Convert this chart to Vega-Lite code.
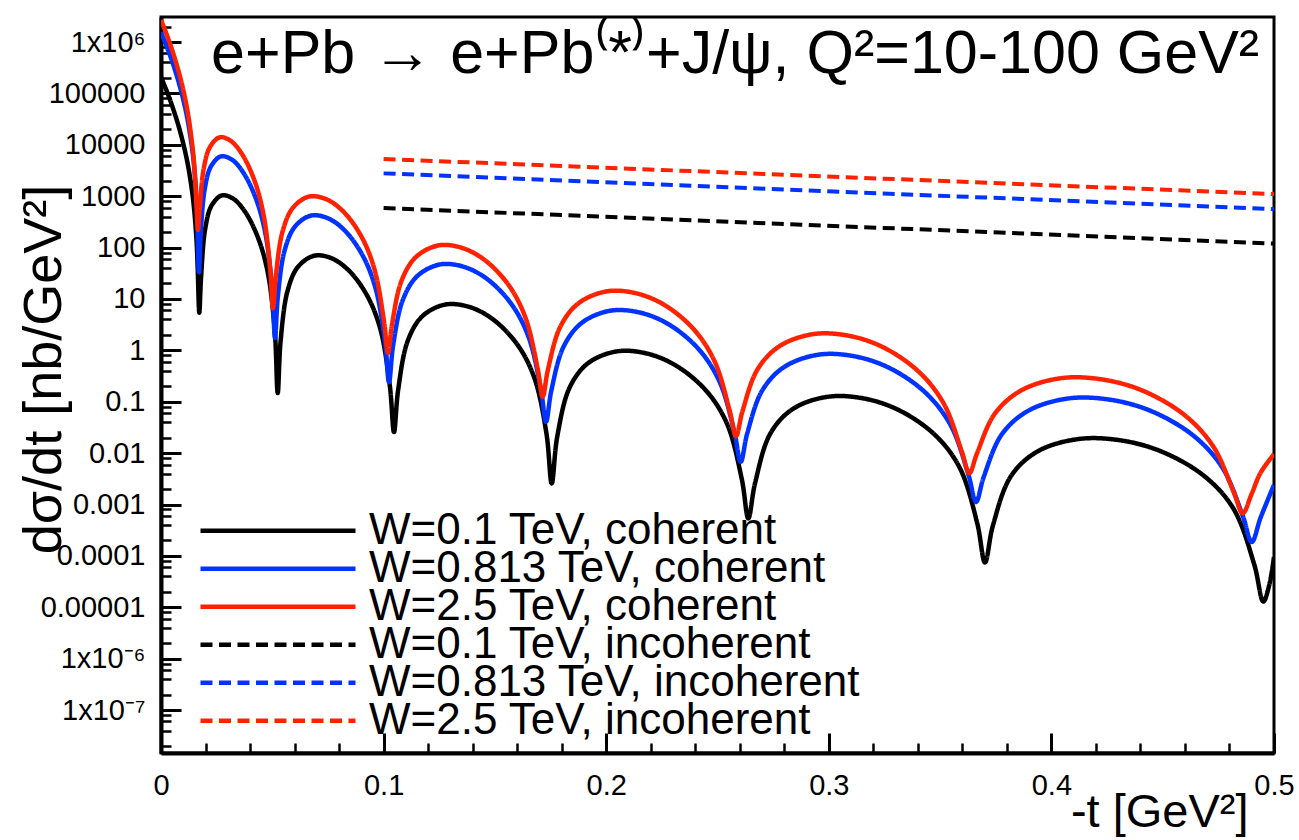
{
  "$schema": "https://vega.github.io/schema/vega-lite/v6.json",
  "width": 1113,
  "height": 736,
  "autosize": {"type": "none"},
  "padding": {"left": 161, "top": 17, "right": 25, "bottom": 87},
  "background": "white",
  "config": {
    "view": {"stroke": "black", "strokeWidth": 3},
    "font": "Liberation Sans",
    "axis": {"grid": false}
  },
  "data": {
    "values": [
      {"s": "W=0.1 TeV, incoherent", "t": 0.1, "v": 590},
      {"s": "W=0.1 TeV, incoherent", "t": 0.5, "v": 120},
      {"s": "W=0.813 TeV, incoherent", "t": 0.1, "v": 2780},
      {"s": "W=0.813 TeV, incoherent", "t": 0.5, "v": 560},
      {"s": "W=2.5 TeV, incoherent", "t": 0.1, "v": 5300},
      {"s": "W=2.5 TeV, incoherent", "t": 0.5, "v": 1100},

      {"s": "W=0.1 TeV, coherent", "t": 0, "v": 209000},
      {"s": "W=0.1 TeV, coherent", "t": 0.002, "v": 128500},
      {"s": "W=0.1 TeV, coherent", "t": 0.004, "v": 76200},
      {"s": "W=0.1 TeV, coherent", "t": 0.006, "v": 42600},
      {"s": "W=0.1 TeV, coherent", "t": 0.008, "v": 22400},
      {"s": "W=0.1 TeV, coherent", "t": 0.010, "v": 10520},
      {"s": "W=0.1 TeV, coherent", "t": 0.012, "v": 4250},
      {"s": "W=0.1 TeV, coherent", "t": 0.014, "v": 1213},
      {"s": "W=0.1 TeV, coherent", "t": 0.015, "v": 491},
      {"s": "W=0.1 TeV, coherent", "t": 0.016, "v": 128.5},
      {"s": "W=0.1 TeV, coherent", "t": 0.0165, "v": 37.9},
      {"s": "W=0.1 TeV, coherent", "t": 0.01721, "v": 5.37},
      {"s": "W=0.1 TeV, coherent", "t": 0.01799, "v": 26.0},
      {"s": "W=0.1 TeV, coherent", "t": 0.01988, "v": 235},
      {"s": "W=0.1 TeV, coherent", "t": 0.02273, "v": 660},
      {"s": "W=0.1 TeV, coherent", "t": 0.02737, "v": 1037},
      {"s": "W=0.1 TeV, coherent", "t": 0.03244, "v": 893},
      {"s": "W=0.1 TeV, coherent", "t": 0.03794, "v": 485},
      {"s": "W=0.1 TeV, coherent", "t": 0.04387, "v": 144.3},
      {"s": "W=0.1 TeV, coherent", "t": 0.04806, "v": 31.0},
      {"s": "W=0.1 TeV, coherent", "t": 0.05111, "v": 2.40},
      {"s": "W=0.1 TeV, coherent", "t": 0.05243, "v": 0.148},
      {"s": "W=0.1 TeV, coherent", "t": 0.05375, "v": 1.554},
      {"s": "W=0.1 TeV, coherent", "t": 0.05686, "v": 14.39},
      {"s": "W=0.1 TeV, coherent", "t": 0.06145, "v": 41.8},
      {"s": "W=0.1 TeV, coherent", "t": 0.06869, "v": 69.2},
      {"s": "W=0.1 TeV, coherent", "t": 0.07631, "v": 62.8},
      {"s": "W=0.1 TeV, coherent", "t": 0.08435, "v": 35.9},
      {"s": "W=0.1 TeV, coherent", "t": 0.09278, "v": 11.26},
      {"s": "W=0.1 TeV, coherent", "t": 0.09863, "v": 2.50},
      {"s": "W=0.1 TeV, coherent", "t": 0.10283, "v": 0.199},
      {"s": "W=0.1 TeV, coherent", "t": 0.10467, "v": 0.0257},
      {"s": "W=0.1 TeV, coherent", "t": 0.10652, "v": 0.1675},
      {"s": "W=0.1 TeV, coherent", "t": 0.11092, "v": 1.563},
      {"s": "W=0.1 TeV, coherent", "t": 0.11738, "v": 4.60},
      {"s": "W=0.1 TeV, coherent", "t": 0.12740, "v": 7.74},
      {"s": "W=0.1 TeV, coherent", "t": 0.13783, "v": 7.14},
      {"s": "W=0.1 TeV, coherent", "t": 0.14867, "v": 4.157},
      {"s": "W=0.1 TeV, coherent", "t": 0.15992, "v": 1.326},
      {"s": "W=0.1 TeV, coherent", "t": 0.16765, "v": 0.298},
      {"s": "W=0.1 TeV, coherent", "t": 0.17317, "v": 0.0239},
      {"s": "W=0.1 TeV, coherent", "t": 0.17552, "v": 0.00257},
      {"s": "W=0.1 TeV, coherent", "t": 0.17795, "v": 0.02025},
      {"s": "W=0.1 TeV, coherent", "t": 0.18359, "v": 0.1897},
      {"s": "W=0.1 TeV, coherent", "t": 0.19179, "v": 0.5603},
      {"s": "W=0.1 TeV, coherent", "t": 0.20444, "v": 0.950},
      {"s": "W=0.1 TeV, coherent", "t": 0.21748, "v": 0.883},
      {"s": "W=0.1 TeV, coherent", "t": 0.23094, "v": 0.5174},
      {"s": "W=0.1 TeV, coherent", "t": 0.24479, "v": 0.1661},
      {"s": "W=0.1 TeV, coherent", "t": 0.25425, "v": 0.0375},
      {"s": "W=0.1 TeV, coherent", "t": 0.26098, "v": 0.003016},
      {"s": "W=0.1 TeV, coherent", "t": 0.26384, "v": 0.000537},
      {"s": "W=0.1 TeV, coherent", "t": 0.26681, "v": 0.00253},
      {"s": "W=0.1 TeV, coherent", "t": 0.27371, "v": 0.02393},
      {"s": "W=0.1 TeV, coherent", "t": 0.28371, "v": 0.0717},
      {"s": "W=0.1 TeV, coherent", "t": 0.29905, "v": 0.1241},
      {"s": "W=0.1 TeV, coherent", "t": 0.31478, "v": 0.1178},
      {"s": "W=0.1 TeV, coherent", "t": 0.33092, "v": 0.0705},
      {"s": "W=0.1 TeV, coherent", "t": 0.34746, "v": 0.0231},
      {"s": "W=0.1 TeV, coherent", "t": 0.35872, "v": 0.00528},
      {"s": "W=0.1 TeV, coherent", "t": 0.36670, "v": 0.000429},
      {"s": "W=0.1 TeV, coherent", "t": 0.37017, "v": 0.0000741},
      {"s": "W=0.1 TeV, coherent", "t": 0.37364, "v": 0.000377},
      {"s": "W=0.1 TeV, coherent", "t": 0.38184, "v": 0.00357},
      {"s": "W=0.1 TeV, coherent", "t": 0.39371, "v": 0.01075},
      {"s": "W=0.1 TeV, coherent", "t": 0.41186, "v": 0.01874},
      {"s": "W=0.1 TeV, coherent", "t": 0.43040, "v": 0.01791},
      {"s": "W=0.1 TeV, coherent", "t": 0.44937, "v": 0.01078},
      {"s": "W=0.1 TeV, coherent", "t": 0.46873, "v": 0.00356},
      {"s": "W=0.1 TeV, coherent", "t": 0.48187, "v": 0.000818},
      {"s": "W=0.1 TeV, coherent", "t": 0.49118, "v": 0.0000667},
      {"s": "W=0.1 TeV, coherent", "t": 0.49519, "v": 0.0000129},
      {"s": "W=0.1 TeV, coherent", "t": 0.49787, "v": 0.0000271},
      {"s": "W=0.1 TeV, coherent", "t": 0.5, "v": 0.0000955},

      {"s": "W=0.813 TeV, coherent", "t": 0, "v": 1549000},
      {"s": "W=0.813 TeV, coherent", "t": 0.002, "v": 948000},
      {"s": "W=0.813 TeV, coherent", "t": 0.004, "v": 560000},
      {"s": "W=0.813 TeV, coherent", "t": 0.006, "v": 312000},
      {"s": "W=0.813 TeV, coherent", "t": 0.008, "v": 162200},
      {"s": "W=0.813 TeV, coherent", "t": 0.010, "v": 75700},
      {"s": "W=0.813 TeV, coherent", "t": 0.012, "v": 29900},
      {"s": "W=0.813 TeV, coherent", "t": 0.014, "v": 8279},
      {"s": "W=0.813 TeV, coherent", "t": 0.015, "v": 3311},
      {"s": "W=0.813 TeV, coherent", "t": 0.016, "v": 802},
      {"s": "W=0.813 TeV, coherent", "t": 0.01707, "v": 33.1},
      {"s": "W=0.813 TeV, coherent", "t": 0.01783, "v": 183},
      {"s": "W=0.813 TeV, coherent", "t": 0.01966, "v": 1384},
      {"s": "W=0.813 TeV, coherent", "t": 0.02243, "v": 3797},
      {"s": "W=0.813 TeV, coherent", "t": 0.02694, "v": 5968},
      {"s": "W=0.813 TeV, coherent", "t": 0.03186, "v": 5140},
      {"s": "W=0.813 TeV, coherent", "t": 0.03718, "v": 2792},
      {"s": "W=0.813 TeV, coherent", "t": 0.04292, "v": 831},
      {"s": "W=0.813 TeV, coherent", "t": 0.04698, "v": 179.5},
      {"s": "W=0.813 TeV, coherent", "t": 0.04993, "v": 15.6},
      {"s": "W=0.813 TeV, coherent", "t": 0.05121, "v": 1.738},
      {"s": "W=0.813 TeV, coherent", "t": 0.05249, "v": 11.11},
      {"s": "W=0.813 TeV, coherent", "t": 0.05555, "v": 88.5},
      {"s": "W=0.813 TeV, coherent", "t": 0.06005, "v": 252},
      {"s": "W=0.813 TeV, coherent", "t": 0.06714, "v": 417},
      {"s": "W=0.813 TeV, coherent", "t": 0.07463, "v": 378},
      {"s": "W=0.813 TeV, coherent", "t": 0.08251, "v": 216},
      {"s": "W=0.813 TeV, coherent", "t": 0.09078, "v": 67.8},
      {"s": "W=0.813 TeV, coherent", "t": 0.09652, "v": 15.31},
      {"s": "W=0.813 TeV, coherent", "t": 0.10064, "v": 1.439},
      {"s": "W=0.813 TeV, coherent", "t": 0.10243, "v": 0.240},
      {"s": "W=0.813 TeV, coherent", "t": 0.10428, "v": 1.249},
      {"s": "W=0.813 TeV, coherent", "t": 0.10866, "v": 9.66},
      {"s": "W=0.813 TeV, coherent", "t": 0.11507, "v": 27.7},
      {"s": "W=0.813 TeV, coherent", "t": 0.12503, "v": 46.7},
      {"s": "W=0.813 TeV, coherent", "t": 0.13540, "v": 43.1},
      {"s": "W=0.813 TeV, coherent", "t": 0.14619, "v": 25.05},
      {"s": "W=0.813 TeV, coherent", "t": 0.15739, "v": 7.99},
      {"s": "W=0.813 TeV, coherent", "t": 0.16509, "v": 1.835},
      {"s": "W=0.813 TeV, coherent", "t": 0.17059, "v": 0.1845},
      {"s": "W=0.813 TeV, coherent", "t": 0.17296, "v": 0.0407},
      {"s": "W=0.813 TeV, coherent", "t": 0.17533, "v": 0.1633},
      {"s": "W=0.813 TeV, coherent", "t": 0.18091, "v": 1.194},
      {"s": "W=0.813 TeV, coherent", "t": 0.18903, "v": 3.431},
      {"s": "W=0.813 TeV, coherent", "t": 0.20155, "v": 5.88},
      {"s": "W=0.813 TeV, coherent", "t": 0.21447, "v": 5.52},
      {"s": "W=0.813 TeV, coherent", "t": 0.22779, "v": 3.268},
      {"s": "W=0.813 TeV, coherent", "t": 0.24150, "v": 1.060},
      {"s": "W=0.813 TeV, coherent", "t": 0.25088, "v": 0.2477},
      {"s": "W=0.813 TeV, coherent", "t": 0.25755, "v": 0.02624},
      {"s": "W=0.813 TeV, coherent", "t": 0.26042, "v": 0.00676},
      {"s": "W=0.813 TeV, coherent", "t": 0.26333, "v": 0.02393},
      {"s": "W=0.813 TeV, coherent", "t": 0.27019, "v": 0.1683},
      {"s": "W=0.813 TeV, coherent", "t": 0.28013, "v": 0.4803},
      {"s": "W=0.813 TeV, coherent", "t": 0.29538, "v": 0.823},
      {"s": "W=0.813 TeV, coherent", "t": 0.31104, "v": 0.7727},
      {"s": "W=0.813 TeV, coherent", "t": 0.32709, "v": 0.4574},
      {"s": "W=0.813 TeV, coherent", "t": 0.34356, "v": 0.1484},
      {"s": "W=0.813 TeV, coherent", "t": 0.35475, "v": 0.03483},
      {"s": "W=0.813 TeV, coherent", "t": 0.36271, "v": 0.003846},
      {"s": "W=0.813 TeV, coherent", "t": 0.36613, "v": 0.001122},
      {"s": "W=0.813 TeV, coherent", "t": 0.36959, "v": 0.003443},
      {"s": "W=0.813 TeV, coherent", "t": 0.37771, "v": 0.02317},
      {"s": "W=0.813 TeV, coherent", "t": 0.38946, "v": 0.0663},
      {"s": "W=0.813 TeV, coherent", "t": 0.40743, "v": 0.1156},
      {"s": "W=0.813 TeV, coherent", "t": 0.42581, "v": 0.1104},
      {"s": "W=0.813 TeV, coherent", "t": 0.44458, "v": 0.0665},
      {"s": "W=0.813 TeV, coherent", "t": 0.46376, "v": 0.02196},
      {"s": "W=0.813 TeV, coherent", "t": 0.47679, "v": 0.00524},
      {"s": "W=0.813 TeV, coherent", "t": 0.48600, "v": 0.000597},
      {"s": "W=0.813 TeV, coherent", "t": 0.48998, "v": 0.000186},
      {"s": "W=0.813 TeV, coherent", "t": 0.49397, "v": 0.000555},
      {"s": "W=0.813 TeV, coherent", "t": 0.5, "v": 0.0024},

      {"s": "W=2.5 TeV, coherent", "t": 0, "v": 2690000},
      {"s": "W=2.5 TeV, coherent", "t": 0.002, "v": 1626000},
      {"s": "W=2.5 TeV, coherent", "t": 0.004, "v": 940000},
      {"s": "W=2.5 TeV, coherent", "t": 0.006, "v": 514000},
      {"s": "W=2.5 TeV, coherent", "t": 0.008, "v": 260000},
      {"s": "W=2.5 TeV, coherent", "t": 0.010, "v": 117000},
      {"s": "W=2.5 TeV, coherent", "t": 0.012, "v": 43300},
      {"s": "W=2.5 TeV, coherent", "t": 0.014, "v": 10380},
      {"s": "W=2.5 TeV, coherent", "t": 0.015, "v": 3648},
      {"s": "W=2.5 TeV, coherent", "t": 0.016, "v": 597},
      {"s": "W=2.5 TeV, coherent", "t": 0.01662, "v": 219},
      {"s": "W=2.5 TeV, coherent", "t": 0.01737, "v": 570},
      {"s": "W=2.5 TeV, coherent", "t": 0.01917, "v": 3388},
      {"s": "W=2.5 TeV, coherent", "t": 0.02190, "v": 8900},
      {"s": "W=2.5 TeV, coherent", "t": 0.02634, "v": 13990},
      {"s": "W=2.5 TeV, coherent", "t": 0.03119, "v": 12050},
      {"s": "W=2.5 TeV, coherent", "t": 0.03645, "v": 6543},
      {"s": "W=2.5 TeV, coherent", "t": 0.04212, "v": 1948},
      {"s": "W=2.5 TeV, coherent", "t": 0.04612, "v": 425},
      {"s": "W=2.5 TeV, coherent", "t": 0.04904, "v": 39.0},
      {"s": "W=2.5 TeV, coherent", "t": 0.05031, "v": 6.61},
      {"s": "W=2.5 TeV, coherent", "t": 0.05160, "v": 28.6},
      {"s": "W=2.5 TeV, coherent", "t": 0.05467, "v": 210},
      {"s": "W=2.5 TeV, coherent", "t": 0.05920, "v": 591},
      {"s": "W=2.5 TeV, coherent", "t": 0.06634, "v": 978},
      {"s": "W=2.5 TeV, coherent", "t": 0.07389, "v": 887},
      {"s": "W=2.5 TeV, coherent", "t": 0.08184, "v": 507},
      {"s": "W=2.5 TeV, coherent", "t": 0.09020, "v": 159},
      {"s": "W=2.5 TeV, coherent", "t": 0.09601, "v": 36.2},
      {"s": "W=2.5 TeV, coherent", "t": 0.10017, "v": 3.70},
      {"s": "W=2.5 TeV, coherent", "t": 0.10198, "v": 0.891},
      {"s": "W=2.5 TeV, coherent", "t": 0.10381, "v": 3.26},
      {"s": "W=2.5 TeV, coherent", "t": 0.10812, "v": 23.0},
      {"s": "W=2.5 TeV, coherent", "t": 0.11445, "v": 64.9},
      {"s": "W=2.5 TeV, coherent", "t": 0.12426, "v": 109.4},
      {"s": "W=2.5 TeV, coherent", "t": 0.13448, "v": 100.9},
      {"s": "W=2.5 TeV, coherent", "t": 0.14511, "v": 58.7},
      {"s": "W=2.5 TeV, coherent", "t": 0.15614, "v": 18.73},
      {"s": "W=2.5 TeV, coherent", "t": 0.16372, "v": 4.34},
      {"s": "W=2.5 TeV, coherent", "t": 0.16913, "v": 0.463},
      {"s": "W=2.5 TeV, coherent", "t": 0.17147, "v": 0.126},
      {"s": "W=2.5 TeV, coherent", "t": 0.17381, "v": 0.417},
      {"s": "W=2.5 TeV, coherent", "t": 0.17936, "v": 2.87},
      {"s": "W=2.5 TeV, coherent", "t": 0.18742, "v": 8.16},
      {"s": "W=2.5 TeV, coherent", "t": 0.19985, "v": 13.97},
      {"s": "W=2.5 TeV, coherent", "t": 0.21268, "v": 13.12},
      {"s": "W=2.5 TeV, coherent", "t": 0.22590, "v": 7.77},
      {"s": "W=2.5 TeV, coherent", "t": 0.23952, "v": 2.52},
      {"s": "W=2.5 TeV, coherent", "t": 0.24883, "v": 0.594},
      {"s": "W=2.5 TeV, coherent", "t": 0.25544, "v": 0.0676},
      {"s": "W=2.5 TeV, coherent", "t": 0.25831, "v": 0.0214},
      {"s": "W=2.5 TeV, coherent", "t": 0.26119, "v": 0.0646},
      {"s": "W=2.5 TeV, coherent", "t": 0.26799, "v": 0.427},
      {"s": "W=2.5 TeV, coherent", "t": 0.27785, "v": 1.206},
      {"s": "W=2.5 TeV, coherent", "t": 0.29296, "v": 2.067},
      {"s": "W=2.5 TeV, coherent", "t": 0.30849, "v": 1.941},
      {"s": "W=2.5 TeV, coherent", "t": 0.32441, "v": 1.149},
      {"s": "W=2.5 TeV, coherent", "t": 0.34073, "v": 0.3727},
      {"s": "W=2.5 TeV, coherent", "t": 0.35184, "v": 0.0887},
      {"s": "W=2.5 TeV, coherent", "t": 0.35971, "v": 0.01091},
      {"s": "W=2.5 TeV, coherent", "t": 0.36312, "v": 0.00407},
      {"s": "W=2.5 TeV, coherent", "t": 0.36655, "v": 0.00982},
      {"s": "W=2.5 TeV, coherent", "t": 0.37459, "v": 0.0586},
      {"s": "W=2.5 TeV, coherent", "t": 0.38625, "v": 0.1643},
      {"s": "W=2.5 TeV, coherent", "t": 0.40408, "v": 0.2863},
      {"s": "W=2.5 TeV, coherent", "t": 0.42231, "v": 0.2735},
      {"s": "W=2.5 TeV, coherent", "t": 0.44092, "v": 0.1648},
      {"s": "W=2.5 TeV, coherent", "t": 0.45996, "v": 0.0544},
      {"s": "W=2.5 TeV, coherent", "t": 0.47286, "v": 0.01318},
      {"s": "W=2.5 TeV, coherent", "t": 0.48201, "v": 0.001694},
      {"s": "W=2.5 TeV, coherent", "t": 0.48594, "v": 0.000676},
      {"s": "W=2.5 TeV, coherent", "t": 0.48991, "v": 0.001589},
      {"s": "W=2.5 TeV, coherent", "t": 0.49389, "v": 0.0041},
      {"s": "W=2.5 TeV, coherent", "t": 0.5, "v": 0.00957}
    ]
  },
  "resolve": {"axis": {"x": "independent", "y": "independent"}},
  "layer": [
    {
      "transform": [{"filter": "indexof(datum.s, 'incoherent') >= 0"}],
      "mark": {"type": "line", "strokeWidth": 4, "clip": true},
      "encoding": {
        "x": {"field": "t", "type": "quantitative",
          "scale": {"domain": [0, 0.5], "nice": false, "zero": false},
          "axis": {"orient": "bottom", "values": [0.02,0.04,0.06,0.08,0.12,0.14,0.16,0.18,0.22,0.24,0.26,0.28,0.32,0.34,0.36,0.38,0.42,0.44,0.46,0.48],
            "labels": false, "domain": false, "tickSize": -10, "tickWidth": 2.5, "tickColor": "black", "title": null, "grid": false}},
        "y": {"field": "v", "type": "quantitative",
          "scale": {"type": "log", "domain": [1.46e-8, 3.07e6], "nice": false},
          "axis": {"orient": "left", "values": [2e-8,4e-8,6e-8,8e-8,2e-7,4e-7,6e-7,8e-7,2e-6,4e-6,6e-6,8e-6,2e-5,4e-5,6e-5,8e-5,2e-4,4e-4,6e-4,8e-4,0.002,0.004,0.006,0.008,0.02,0.04,0.06,0.08,0.2,0.4,0.6,0.8,2,4,6,8,20,40,60,80,200,400,600,800,2000,4000,6000,8000,20000,40000,60000,80000,200000,400000,600000,800000,2000000],
            "labels": false, "domain": false, "tickSize": -10, "tickWidth": 2.5, "tickColor": "black", "title": null, "grid": false}},
        "color": {"field": "s", "type": "nominal",
          "scale": {"domain": ["W=0.1 TeV, coherent", "W=0.813 TeV, coherent", "W=2.5 TeV, coherent", "W=0.1 TeV, incoherent", "W=0.813 TeV, incoherent", "W=2.5 TeV, incoherent"],
            "range": ["#000000", "#0033ff", "#ff2200", "#000000", "#0033ff", "#ff2200"]},
          "legend": {"title": null, "orient": "none", "legendX": 37, "legendY": 498.5, "symbolType": "stroke", "symbolSize": 24025, "symbolStrokeWidth": 4.5, "clipHeight": 30.6, "rowPadding": -8, "labelFont": "Liberation Sans", "labelFontSize": 44, "labelColor": "black", "labelOffset": 11, "labelLimit": 0, "padding": 0, "symbolOffset": 0}},
        "strokeDash": {"field": "s", "type": "nominal",
          "scale": {"domain": ["W=0.1 TeV, coherent", "W=0.813 TeV, coherent", "W=2.5 TeV, coherent", "W=0.1 TeV, incoherent", "W=0.813 TeV, incoherent", "W=2.5 TeV, incoherent"],
            "range": [[1, 0], [1, 0], [1, 0], [12, 6.5], [12, 6.5], [12, 6.5]]},
          "legend": {"title": null, "orient": "none", "legendX": 37, "legendY": 498.5, "symbolType": "stroke", "symbolSize": 24025, "symbolStrokeWidth": 4.5, "clipHeight": 30.6, "rowPadding": -8, "labelFont": "Liberation Sans", "labelFontSize": 44, "labelColor": "black", "labelOffset": 11, "labelLimit": 0, "padding": 0, "symbolOffset": 0}}
      }
    },
    {
      "transform": [{"filter": "datum.s == 'W=0.1 TeV, coherent'"}],
      "mark": {"type": "line", "strokeWidth": 4.5, "clip": true, "interpolate": "catmull-rom"},
      "encoding": {
        "x": {"field": "t", "type": "quantitative",
          "axis": {"orient": "bottom", "values": [0, 0.1, 0.2, 0.3, 0.4, 0.5], "format": ".1~f",
            "tickSize": -20, "tickWidth": 3, "tickColor": "black", "domainColor": "black", "domainWidth": 4,
            "labelFont": "Liberation Sans", "labelFontSize": 29, "labelColor": "black", "labelPadding": 38, "labelFlush": false,
            "title": "-t [GeV²]", "titleFont": "Liberation Sans", "titleFontSize": 47, "titleFontWeight": "normal", "titleColor": "black",
            "titleAnchor": "end", "titleAlign": "right", "titleX": 1087, "titleY": 73, "titleBaseline": "alphabetic", "grid": false}},
        "y": {"field": "v", "type": "quantitative",
          "axis": {"orient": "left", "values": [1e-7,1e-6,1e-5,1e-4,0.001,0.01,0.1,1,10,100,1000,10000,100000,1000000],
            "format": ".5~f",
            "labelExpr": "datum.value > 500000 ? '1x10⁶' : datum.value < 2e-7 ? '1x10⁻⁷' : datum.value < 2e-6 ? '1x10⁻⁶' : datum.label",
            "tickSize": -20, "tickWidth": 3, "tickColor": "black", "domainColor": "black", "domainWidth": 4,
            "labelFont": "Liberation Sans", "labelFontSize": 29, "labelColor": "black", "labelPadding": 36, "labelFlush": false, "labelOverlap": false,
            "title": "dσ/dt [nb/GeV²]", "titleFont": "Liberation Sans", "titleFontSize": 54, "titleFontWeight": "normal", "titleColor": "black",
            "titleX": -101, "titleY": 352, "titleAngle": 270, "titleAlign": "center", "titleBaseline": "alphabetic", "grid": false}},
        "color": {"field": "s", "type": "nominal"},
        "strokeDash": {"field": "s", "type": "nominal"}
      }
    },
    {
      "transform": [{"filter": "datum.s == 'W=0.813 TeV, coherent'"}],
      "mark": {"type": "line", "strokeWidth": 4.5, "clip": true, "interpolate": "catmull-rom"},
      "encoding": {
        "x": {"field": "t", "type": "quantitative", "axis": null},
        "y": {"field": "v", "type": "quantitative", "axis": null},
        "color": {"field": "s", "type": "nominal"},
        "strokeDash": {"field": "s", "type": "nominal"}
      }
    },
    {
      "transform": [{"filter": "datum.s == 'W=2.5 TeV, coherent'"}],
      "mark": {"type": "line", "strokeWidth": 4.5, "clip": true, "interpolate": "catmull-rom"},
      "encoding": {
        "x": {"field": "t", "type": "quantitative", "axis": null},
        "y": {"field": "v", "type": "quantitative", "axis": null},
        "color": {"field": "s", "type": "nominal"},
        "strokeDash": {"field": "s", "type": "nominal"}
      }
    },
    {
      "data": {"values": [{"label": "e+Pb → e+Pb⁽*⁾+J/ψ, Q²=10-100 GeV²"}]},
      "mark": {"type": "text", "align": "left", "baseline": "alphabetic", "fontSize": 61, "font": "Liberation Sans", "color": "black"},
      "encoding": {
        "x": {"datum": 0.0225, "type": "quantitative", "axis": null},
        "y": {"datum": 249000, "type": "quantitative", "axis": null},
        "text": {"field": "label"}
      }
    }
  ]
}
